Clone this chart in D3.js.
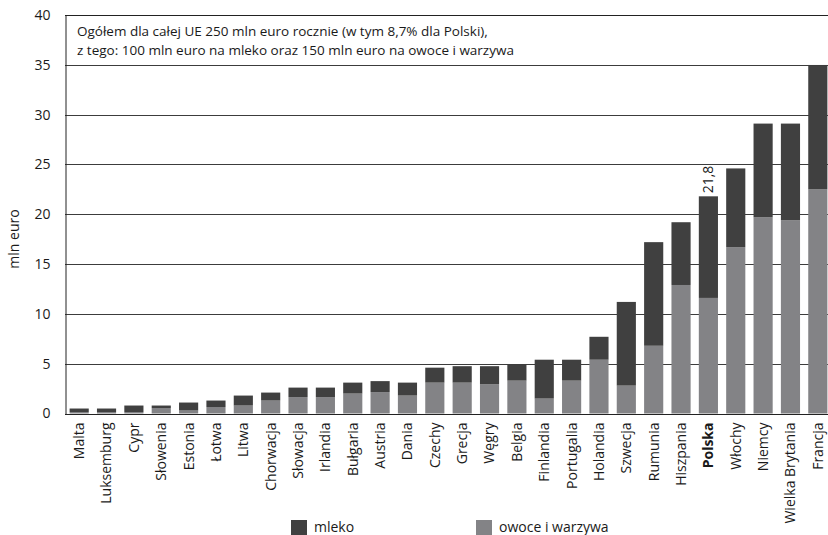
<!DOCTYPE html>
<html>
<head>
<meta charset="utf-8">
<script src="https://cdn.jsdelivr.net/npm/d3@7"></script>
<style>
  html, body { margin: 0; padding: 0; background: #fff; }
  svg { display: block; font-family: "Open Sans", "Noto Sans", sans-serif; }
</style>
</head>
<body>
<svg id="chart" width="828" height="535"></svg>
<script>
// Roczne środki programu szkolnego UE (mln euro) według państw
const countries = ["Malta", "Luksemburg", "Cypr", "Słowenia", "Estonia", "Łotwa", "Litwa",
  "Chorwacja", "Słowacja", "Irlandia", "Bułgaria", "Austria", "Dania", "Czechy", "Grecja",
  "Węgry", "Belgia", "Finlandia", "Portugalia", "Holandia", "Szwecja", "Rumunia",
  "Hiszpania", "Polska", "Włochy", "Niemcy", "Wielka Brytania", "Francja"];

// owoce i warzywa (dolna część słupka)
const owoce = [0.15, 0.15, 0.15, 0.55, 0.3, 0.65, 0.8, 1.3, 1.65, 1.65, 2.0, 2.15, 1.8, 3.1,
  3.1, 2.95, 3.3, 1.5, 3.3, 5.4, 2.8, 6.8, 12.9, 11.6, 16.7, 19.7, 19.4, 22.5];

// mleko (górna część słupka)
const mleko = [0.35, 0.35, 0.65, 0.25, 0.8, 0.65, 1.0, 0.8, 0.95, 0.95, 1.1, 1.1, 1.3, 1.5,
  1.65, 1.8, 1.6, 3.9, 2.1, 2.3, 8.4, 10.4, 6.3, 10.2, 7.9, 9.4, 9.7, 12.5];

const yTicks = [0, 5, 10, 15, 20, 25, 30, 35, 40];
const seriesNames = ["mleko", "owoce i warzywa"];
const highlighted = "Polska";
const noteLines = [
  "Ogółem dla całej UE 250 mln euro rocznie (w tym 8,7% dla Polski),",
  "z tego: 100 mln euro na mleko oraz 150 mln euro na owoce i warzywa"
];

const colMleko = "#404040";
const colOwoce = "#838386";
const textCol = "#1a1a1a";
const fs = 14;

const svg = d3.select("#chart");
const plotLeft = 65, plotRight = 828, plotTop = 15, plotBottom = 413.5;

const x = d3.scaleBand()
  .domain(countries)
  .range([65.5, 831.5])
  .paddingInner(0.3)
  .paddingOuter(0.15);

const y = d3.scaleLinear().domain([0, 40]).range([plotBottom, plotTop]);

// linie siatki
svg.append("g")
  .selectAll("line")
  .data(yTicks.filter(t => t > 0 && t < 40))
  .join("line")
  .attr("x1", plotLeft).attr("x2", plotRight)
  .attr("y1", d => Math.round(y(d)) + 0.5).attr("y2", d => Math.round(y(d)) + 0.5)
  .attr("stroke", "#3c3c3c").attr("stroke-width", 1);

// słupki skumulowane
const rows = countries.map((c, i) => ({ country: c, owoce: owoce[i], mleko: mleko[i] }));
const stack = d3.stack().keys(["owoce", "mleko"])(rows);
const colors = { owoce: colOwoce, mleko: colMleko };

svg.append("g")
  .selectAll("g")
  .data(stack)
  .join("g")
  .attr("fill", d => colors[d.key])
  .selectAll("rect")
  .data(d => d)
  .join("rect")
  .attr("x", d => x(d.data.country))
  .attr("width", x.bandwidth())
  .attr("y", d => y(d[1]))
  .attr("height", d => y(d[0]) - y(d[1]));

// pole z opisem w górnej części wykresu
svg.append("rect")
  .attr("x", plotLeft).attr("y", y(40))
  .attr("width", plotRight - plotLeft).attr("height", y(35) - y(40))
  .attr("fill", "#fff");

svg.append("line")
  .attr("x1", plotLeft).attr("x2", plotRight)
  .attr("y1", Math.round(y(40)) + 0.5).attr("y2", Math.round(y(40)) + 0.5)
  .attr("stroke", "#222");
svg.append("line")
  .attr("x1", plotLeft).attr("x2", plotRight)
  .attr("y1", Math.round(y(35)) + 0.5).attr("y2", Math.round(y(35)) + 0.5)
  .attr("stroke", "#3c3c3c");

svg.append("g")
  .selectAll("text")
  .data(noteLines)
  .join("text")
  .attr("x", 77)
  .attr("y", (d, i) => 36 + i * 18.5)
  .attr("font-size", 13.5)
  .attr("fill", textCol)
  .text(d => d);

// oś Y
const yAxis = svg.append("g")
  .attr("transform", `translate(${plotLeft + 0.5},0)`)
  .call(d3.axisLeft(y).tickValues(yTicks).tickSize(0).tickPadding(15));
yAxis.select(".domain").attr("stroke", "#222");
yAxis.selectAll("text").attr("font-size", fs).attr("fill", textCol)
  .attr("font-family", "'Open Sans', sans-serif");

svg.append("text")
  .attr("transform", "translate(14,239) rotate(-90)")
  .attr("text-anchor", "middle")
  .attr("dy", "0.35em")
  .attr("font-size", fs)
  .attr("fill", textCol)
  .text("mln euro");

// oś X
const xAxis = svg.append("g")
  .attr("transform", `translate(0,${Math.round(plotBottom) + 0.5})`)
  .call(d3.axisBottom(x).tickSize(0).tickPadding(0));
xAxis.select(".domain").attr("stroke", "#222").attr("d", `M${plotLeft},0H${plotRight}`);
xAxis.selectAll("text")
  .attr("font-size", fs)
  .attr("fill", textCol)
  .attr("font-family", "'Open Sans', sans-serif")
  .attr("font-weight", d => d === highlighted ? "bold" : "normal")
  .attr("text-anchor", "end")
  .attr("dy", "0.35em")
  .attr("transform", "translate(0,8) rotate(-90)");

// etykieta wartości dla Polski
const pi = countries.indexOf(highlighted);
const plTotal = owoce[pi] + mleko[pi];
svg.append("text")
  .attr("transform", `translate(${x(highlighted) + x.bandwidth() / 2},${y(plTotal) - 3}) rotate(-90)`)
  .attr("dy", "0.35em")
  .attr("font-size", fs)
  .attr("fill", textCol)
  .text(d3.format(".1f")(plTotal).replace(".", ","));

// legenda
const legend = svg.append("g");
const legendItems = [
  { name: seriesNames[0], color: colMleko, x: 291 },
  { name: seriesNames[1], color: colOwoce, x: 476 }
];
legend.selectAll("rect")
  .data(legendItems)
  .join("rect")
  .attr("x", d => d.x).attr("y", 520)
  .attr("width", 16).attr("height", 15)
  .attr("fill", d => d.color);
legend.selectAll("text")
  .data(legendItems)
  .join("text")
  .attr("x", d => d.x + 23).attr("y", 532)
  .attr("font-size", fs)
  .attr("fill", textCol)
  .text(d => d.name);
</script>
</body>
</html>
